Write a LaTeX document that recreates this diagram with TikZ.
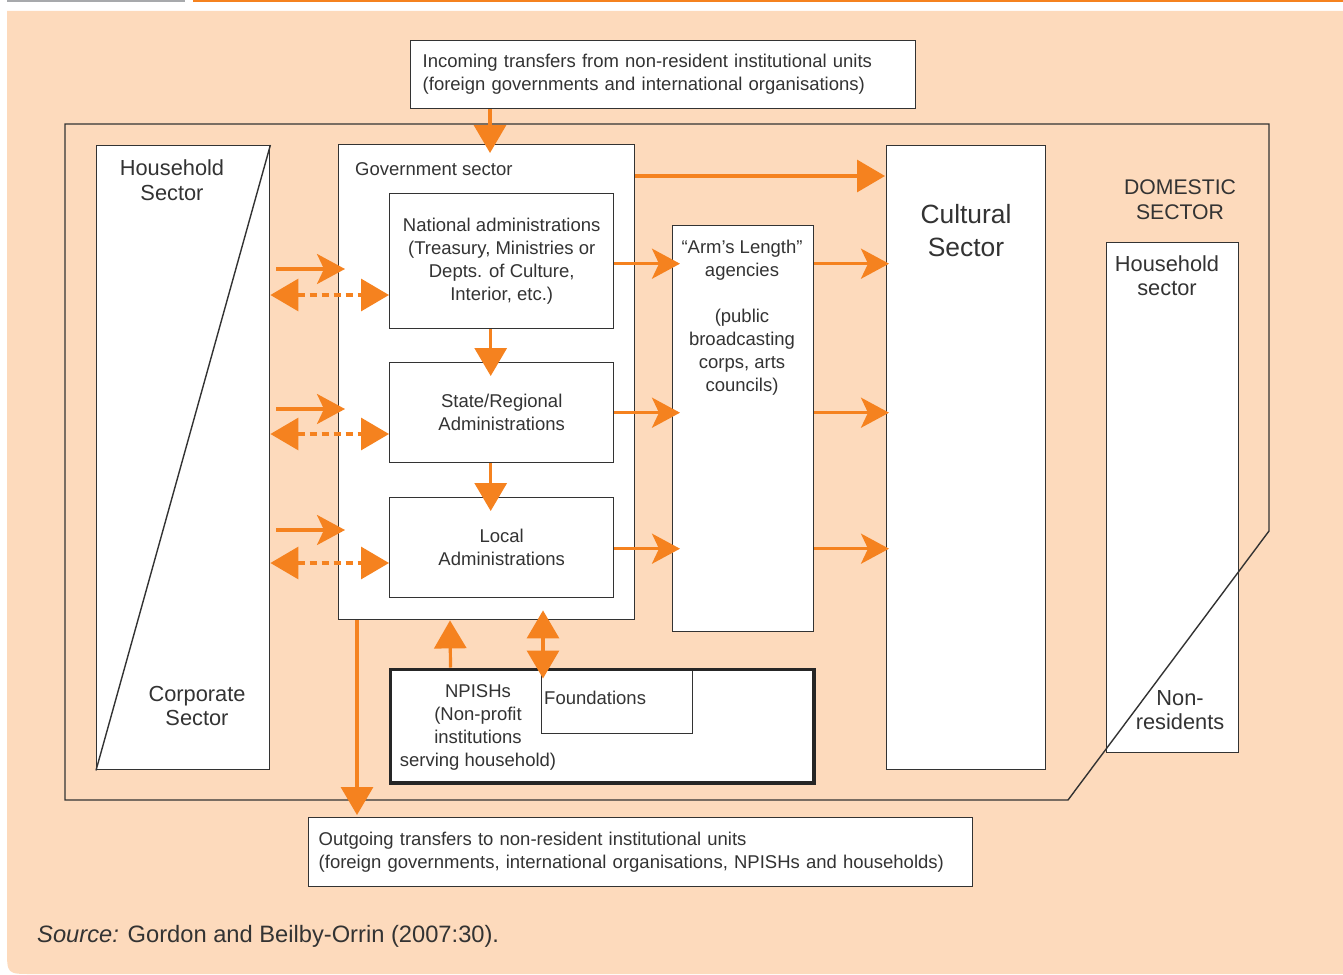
\documentclass[tikz,border=0pt]{standalone}
\usepackage{fontspec}
\setmainfont{Liberation Sans}
\usetikzlibrary{arrows.meta,calc}
\definecolor{peach}{HTML}{FDDABC}
\definecolor{orng}{HTML}{F5821F}
\definecolor{ink}{HTML}{333333}
\definecolor{gryline}{HTML}{A7A9AC}
\begin{document}
\begin{tikzpicture}[x=1pt,y=-1pt,
  box/.style={draw=ink,line width=1.4pt,fill=white,inner sep=0pt,anchor=north west,
    font=\fontsize{18.5}{23}\selectfont,text=ink,align=center},
  txt/.style={font=\fontsize{18.5}{23}\selectfont,text=ink,inner sep=0pt,align=center},
  big/.style={font=\fontsize{21.8}{24.5}\selectfont,text=ink,inner sep=0pt,align=center},
  oline/.style={draw=orng,line width=3.2pt},
  tri/.style={oline,-{Triangle[length=28pt,width=32pt]}},
  dtri/.style={oline,{Triangle[length=28pt,width=32pt]}-{Triangle[length=28pt,width=32pt]}},
  stl/.style={oline,-{Stealth[length=28pt,width=30pt,inset=7pt]}},
  dsh/.style={dtri,dash pattern=on 7pt off 5pt},
]
\useasboundingbox (0,0) rectangle (1343,974);
% background
\fill[peach] (7,11) -- (1343,11) -- (1343,974) -- (32,974) .. controls (7,974) .. (7,949) -- cycle;
\draw[gryline,line width=2pt] (7,1) -- (185,1);
\draw[orng,line width=2pt] (193,1) -- (1343,1);

% level coordinates
\coordinate (lv1) at (0,269);
\coordinate (lv2) at (0,295);
\coordinate (lv3) at (0,409);
\coordinate (lv4) at (0,434);
\coordinate (lv5) at (0,530);
\coordinate (lv6) at (0,563);

% boxes
\node[box,minimum width=505pt,minimum height=68pt,text width=481pt,align=left,inner xsep=12pt] (inc) at (410,40)
  {Incoming transfers from non-resident institutional units\\(foreign governments and international organisations)};
\node[box,minimum width=664pt,minimum height=69pt,text width=644pt,align=left,inner xsep=10pt] (out) at (308,817)
  {Outgoing transfers to non-resident institutional units\\(foreign governments, international organisations, NPISHs and households)};

\node[box,minimum width=173pt,minimum height=624pt] (hh) at (96,145) {};
\draw[ink,line width=1.4pt] (hh.north east) -- (hh.south west);
\node[big] (hhl) at (172,180) {Household\\Sector};
\node[big] (cpl) at (197,706) {Corporate\\Sector};

\node[box,minimum width=296pt,minimum height=475pt] (gov) at (338,144) {};
\node[txt,anchor=west] (govl) at (355,169) {Government sector};
\node[box,minimum width=224pt,minimum height=135pt] (nat) at (389,193)
  {National administrations\\(Treasury, Ministries or\\Depts. of Culture,\\Interior, etc.)};
\node[box,minimum width=224pt,minimum height=100pt] (state) at (389,362)
  {State/Regional\\Administrations};
\node[box,minimum width=224pt,minimum height=100pt] (local) at (389,497)
  {Local\\Administrations};

\node[box,minimum width=141pt,minimum height=406pt] (arm) at (672,225) {};
\node[txt,anchor=north] (arml) at (742,240)
  {“Arm’s Length”\\agencies\\[23pt](public\\broadcasting\\corps, arts\\councils)};

\node[box,minimum width=159pt,minimum height=624pt] (cult) at (886,145) {};
\node[font=\fontsize{26.4}{33}\selectfont,text=ink,inner sep=0pt,align=center] (cultl) at (966,230.5) {Cultural\\Sector};

\node[font=\fontsize{21.2}{25}\selectfont,text=ink,inner sep=0pt,align=center] (doml) at (1180,199.5) {DOMESTIC\\SECTOR};

\node[box,minimum width=132pt,minimum height=510pt] (rhh) at (1106,242) {};
\node[big] (rhhl) at (1167,275.5) {Household\\sector};
\node[big] (nrl) at (1180,710) {Non-\\residents};

\node[box,minimum width=422pt,minimum height=112pt] (npi) at (390.5,669.5) {};
\node[box,minimum width=151pt,minimum height=63.5pt] (fnd) at (541,669.5) {};
\draw[black!85,line width=3.5pt] (npi.north west) rectangle (npi.south east);
\node[txt,anchor=west] (fndl) at (544,698) {Foundations};
\node[txt] (npil) at (478,727.5) {NPISHs\\(Non-profit\\institutions\\serving household)};

% domestic sector outline
\draw[ink,line width=1.4pt] (65,124) -- (1269,124) -- (1269,531) -- (1068,800) -- (65,800) -- cycle;

% arrows
\draw[tri] ($(inc.south west)+(80,0)$) -- ($(gov.north west)+(152,9)$);
\draw[tri] ($(gov.north east)+(0,32)$) -- ($(cult.north west)+(-1,31)$);

\draw[stl] ($(nat.east)+(0,2.5)$) -- ($(nat.east -| arm.west)+(8,2.5)$);
\draw[stl] (state.east) -- ($(state.east -| arm.west)+(8,0)$);
\draw[stl] ($(local.east)+(0,1)$) -- ($(local.east -| arm.west)+(8,1)$);
\draw[stl] ($(arm.east |- nat.east)+(0,2.5)$) -- ($(cult.west |- nat.east)+(3,2.5)$);
\draw[stl] (arm.east |- state.east) -- ($(cult.west |- state.east)+(3,0)$);
\draw[stl] ($(arm.east |- local.east)+(0,1)$) -- ($(cult.west |- local.east)+(3,1)$);

\draw[tri] ($(nat.south)+(-11,0)$) -- ($(state.north)+(-11,14)$);
\draw[tri] ($(state.south)+(-11,0)$) -- ($(local.north)+(-11,14)$);

\draw[stl] ($(hh.east |- lv1)+(6,0)$) -- ($(gov.west |- lv1)+(7,0)$);
\draw[dsh] (hh.east |- lv2) -- (nat.west |- lv2);
\draw[stl] ($(hh.east |- lv3)+(6,0)$) -- ($(gov.west |- lv3)+(7,0)$);
\draw[dsh] (hh.east |- lv4) -- (state.west |- lv4);
\draw[stl] ($(hh.east |- lv5)+(6,0)$) -- ($(gov.west |- lv5)+(7,0)$);
\draw[dsh] (hh.east |- lv6) -- (local.west |- lv6);

\draw[tri] ($(npi.north west)+(60,-2)$) -- ($(gov.south west)+(112,0)$);
\draw[dtri] ($(gov.south -| fnd.west)+(2,-10)$) -- ($(fnd.north west)+(2,9)$);
\draw[tri] ($(gov.south west)+(19,0)$) -- ($(out.north west)+(49,-2)$);

\node[font=\fontsize{23.7}{28}\selectfont,text=ink,anchor=west,inner sep=0pt] (src) at (37,936)
  {\textit{Source:} Gordon and Beilby-Orrin (2007:30).};
\end{tikzpicture}
\end{document}
